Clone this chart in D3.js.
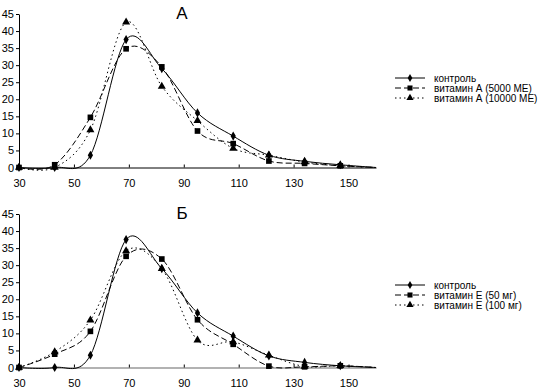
<!DOCTYPE html>
<html>
<head>
<meta charset="utf-8">
<script src="https://cdn.jsdelivr.net/npm/d3@7"></script>
<style>
  html, body { margin: 0; padding: 0; background: #fff; }
  svg { display: block; font-family: "Liberation Sans", Arial, sans-serif; }
</style>
</head>
<body>
<svg id="chart" width="552" height="391"></svg>
<script>
// ---- data ----
const xValues = [30, 43, 56, 69, 82, 95, 108, 121, 134, 147, 160];
const xTicks = [30, 50, 70, 90, 110, 130, 150];
const yTicks = [0, 5, 10, 15, 20, 25, 30, 35, 40, 45];

const panelTitles = ["А", "Б"];

const controlA = [0, 0, 3.6, 37.5, 29, 16, 9.2, 3.6, 1.8, 0.8, 0];
const vitA5000 = [0, 0.8, 14.7, 34.8, 29.5, 10.7, 7, 1.9, 1.2, 0.5, 0];
const vitA10000 = [0, 0, 11, 42.6, 23.8, 13.7, 5.6, 3.6, 1.6, 0.5, 0];
const namesA = ["контроль", "витамин А (5000 МЕ)", "витамин А (10000 МЕ)"];

const controlB = [0, 0, 3.6, 37.5, 29, 16, 9.2, 3.4, 1.5, 0.5, 0];
const vitE50 = [0, 3.9, 10.6, 32.6, 31.8, 14, 6.8, 0.4, 0.2, 0.5, 0];
const vitE100 = [0, 4.6, 13.9, 34.2, 29, 8, 7.5, 3.6, 0.3, 0.5, 0];
const namesB = ["контроль", "витамин Е (50 мг)", "витамин Е (100 мг)"];

// ---- layout ----
const svg = d3.select("#chart");
const styles = [
  { dash: null, marker: d3.symbolDiamond, size: 24 },
  { dash: "6,3", marker: d3.symbolSquare, size: 32 },
  { dash: "1.5,3", marker: d3.symbolTriangle, size: 28 }
];

const x = d3.scaleLinear().domain([30, 160]).range([19, 376]);

const panels = [
  { top: 0, title: panelTitles[0], series: [controlA, vitA5000, vitA10000], names: namesA, axisColor: "#000", legendY: 78 },
  { top: 200, title: panelTitles[1], series: [controlB, vitE50, vitE100], names: namesB, axisColor: "#999", legendY: 285 }
];

panels.forEach(p => {
  const g = svg.append("g").attr("transform", `translate(0,${p.top})`);
  const y = d3.scaleLinear().domain([0, 45]).range([167.5, 14]);

  // y axis
  const ya = g.append("g").attr("transform", `translate(${x(30)},0)`)
    .call(d3.axisLeft(y).tickValues(yTicks).tickSizeInner(3).tickSizeOuter(0).tickPadding(2));
  ya.selectAll("text").attr("font-size", 11).attr("font-family", "Liberation Sans, Arial, sans-serif").attr("fill", "#000");
  ya.selectAll("line,path").attr("stroke", "#000");

  // x axis
  const xa = g.append("g").attr("transform", `translate(0,${y(0)})`)
    .call(d3.axisBottom(x).tickValues(xTicks).tickSizeInner(-3).tickSizeOuter(0).tickPadding(12));
  xa.selectAll("text").attr("font-size", 11).attr("font-family", "Liberation Sans, Arial, sans-serif").attr("fill", "#000");
  xa.selectAll("line").attr("stroke", "#000");
  xa.select("path").attr("stroke", p.axisColor).attr("stroke-width", p.axisColor === "#000" ? 1 : 1.6);

  // title
  g.append("text").attr("x", 182).attr("y", 19).attr("text-anchor", "middle")
    .attr("font-size", 17).attr("fill", "#000").text(p.title);

  const line = d3.line()
    .x((d, i) => x(xValues[i]))
    .y(d => y(d))
    .curve(d3.curveCardinal.tension(0));

  p.series.forEach((s, k) => {
    const st = styles[k];
    g.append("path").datum(s).attr("d", line)
      .attr("fill", "none").attr("stroke", "#000").attr("stroke-width", 1)
      .attr("stroke-dasharray", st.dash);
  });
  p.series.forEach((s, k) => {
    const st = styles[k];
    g.append("g").selectAll("path").data(s.slice(0, 10)).join("path")
      .attr("transform", (d, i) => `translate(${x(xValues[i])},${y(d)})`)
      .attr("d", d3.symbol().type(st.marker).size(st.size))
      .attr("fill", "#000");
  });

  // legend
  const lg = svg.append("g").attr("transform", `translate(0,${p.legendY})`);
  p.names.forEach((n, k) => {
    const st = styles[k];
    const yy = k * 10;
    lg.append("line").attr("x1", 395).attr("x2", 425).attr("y1", yy).attr("y2", yy)
      .attr("stroke", "#000").attr("stroke-width", 1).attr("stroke-dasharray", st.dash);
    lg.append("path").attr("transform", `translate(410,${yy})`)
      .attr("d", d3.symbol().type(st.marker).size(st.size * 0.8)).attr("fill", "#000");
    lg.append("text").attr("x", 434).attr("y", yy).attr("dy", "0.35em")
      .attr("font-size", 10).attr("fill", "#000").text(n);
  });
});
</script>
</body>
</html>
